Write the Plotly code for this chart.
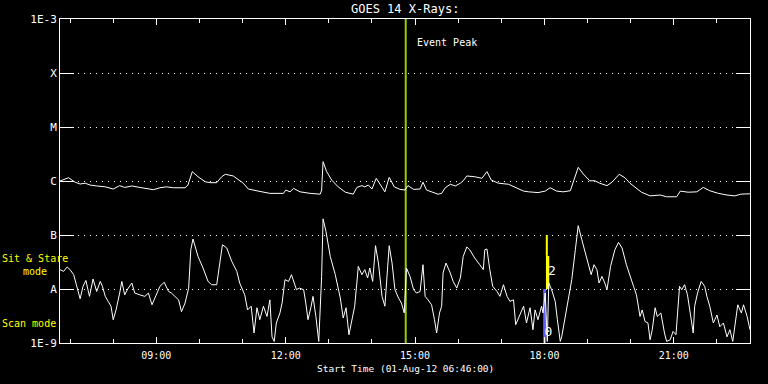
import pandas as pd
import plotly.graph_objects as go

START = pd.Timestamp("2012-08-01 06:46:00")
END = START + pd.Timedelta(hours=16)

# --- Long-wavelength channel (upper curve): minutes after start, flux (W/m^2)
long_t = [0, 12, 21, 28, 35, 42, 51, 63, 74, 83, 90, 100, 111, 121, 130, 139, 148, 158, 167, 174,
          178, 184, 192, 202, 209, 218, 225, 230, 241, 248, 255, 262, 271, 281, 292, 304, 311, 314,
          320, 325, 334, 348, 362, 364, 366, 371, 378, 387, 397, 408, 413, 420, 424, 429, 434, 440,
          448, 452, 458, 465, 473, 480, 484, 492, 501, 505, 510, 519, 526, 531, 536, 543, 550, 557,
          561, 566, 577, 587, 594, 600, 610, 624, 635, 645, 652, 665, 675, 682, 691, 700, 710, 714,
          721, 728, 737, 744, 751, 761, 768, 778, 786, 793, 805, 809, 821, 835, 844, 858, 863, 874,
          886, 895, 904, 916, 928, 939, 947, 960]
long_flux = [1.00e-6, 1.15e-6, 0.95e-6, 0.88e-6, 0.91e-6, 0.84e-6, 0.81e-6, 0.78e-6, 0.71e-6, 0.82e-6,
             0.76e-6, 0.81e-6, 0.76e-6, 0.71e-6, 0.69e-6, 0.75e-6, 0.78e-6, 0.75e-6, 0.75e-6, 0.75e-6,
             0.84e-6, 1.49e-6, 1.20e-6, 0.97e-6, 0.93e-6, 0.93e-6, 1.20e-6, 1.33e-6, 1.24e-6, 1.07e-6,
             0.91e-6, 0.71e-6, 0.68e-6, 0.63e-6, 0.59e-6, 0.58e-6, 0.59e-6, 0.68e-6, 0.63e-6, 0.73e-6,
             0.63e-6, 0.59e-6, 0.57e-6, 0.68e-6, 2.28e-6, 1.49e-6, 1.04e-6, 0.78e-6, 0.62e-6, 0.57e-6,
             0.76e-6, 0.82e-6, 0.78e-6, 0.84e-6, 0.71e-6, 1.12e-6, 0.76e-6, 0.63e-6, 1.17e-6, 0.78e-6,
             0.70e-6, 0.68e-6, 0.82e-6, 0.70e-6, 0.71e-6, 0.95e-6, 0.68e-6, 0.61e-6, 0.57e-6, 0.59e-6,
             0.75e-6, 0.87e-6, 0.81e-6, 0.91e-6, 1.01e-6, 1.24e-6, 1.20e-6, 1.12e-6, 1.49e-6, 1.04e-6,
             0.91e-6, 0.87e-6, 0.75e-6, 0.65e-6, 0.63e-6, 0.61e-6, 0.65e-6, 0.75e-6, 0.65e-6, 0.63e-6,
             0.66e-6, 0.97e-6, 1.79e-6, 1.35e-6, 1.01e-6, 1.01e-6, 0.91e-6, 0.82e-6, 0.95e-6, 1.33e-6,
             1.15e-6, 0.91e-6, 0.68e-6, 0.62e-6, 0.53e-6, 0.55e-6, 0.51e-6, 0.51e-6, 0.65e-6, 0.62e-6,
             0.63e-6, 0.76e-6, 0.66e-6, 0.59e-6, 0.55e-6, 0.53e-6, 0.57e-6, 0.58e-6]

# --- Short-wavelength channel (lower curve): minutes after start, flux (W/m^2)
short_t = [0, 5, 10, 14, 19, 23, 28, 32, 36, 41, 46, 51, 56, 59, 63, 67, 71, 74, 78, 83, 86, 90, 95,
           100, 104, 111, 118, 123, 128, 132, 139, 145, 151, 155, 160, 165, 169, 174, 179, 182, 185,
           192, 199, 206, 211, 218, 220, 226, 232, 239, 246, 250, 257, 261, 266, 270, 274, 278, 283,
           288, 292, 295, 298, 301, 306, 309, 313, 318, 322, 326, 329, 333, 339, 342, 345, 349, 352,
           356, 360, 364, 366, 370, 376, 383, 390, 394, 398, 402, 406, 410, 413, 415, 420, 424, 428,
           431, 435, 439, 443, 448, 452, 455, 458, 462, 466, 471, 475, 479, 482, 487, 492, 496, 501,
           505, 508, 512, 517, 521, 524, 528, 531, 533, 537, 543, 547, 552, 557, 561, 566, 570, 577,
           584, 589, 591, 594, 598, 602, 608, 612, 617, 622, 626, 631, 634, 640, 645, 649, 654, 658,
           661, 665, 670, 672, 675, 678, 680, 684, 689, 692, 696, 698, 703, 707, 712, 717, 721, 726,
           730, 735, 739, 743, 747, 750, 754, 758, 761, 766, 772, 777, 782, 788, 793, 798, 802, 804,
           807, 810, 814, 818, 821, 824, 828, 831, 836, 841, 844, 849, 853, 857, 859, 862, 865, 869,
           873, 878, 881, 883, 887, 892, 897, 900, 904, 909, 914, 918, 923, 928, 932, 936, 939, 943,
           948, 951, 956, 960]
short_flux = [2.28e-8, 2.12e-8, 2.56e-8, 2.28e-8, 1.84e-8, 1.20e-8, 0.66e-8, 1.12e-8, 1.44e-8, 0.73e-8,
              1.53e-8, 0.90e-8, 1.38e-8, 1.12e-8, 0.73e-8, 0.59e-8, 0.48e-8, 0.27e-8, 0.41e-8, 0.84e-8,
              1.38e-8, 0.78e-8, 1.04e-8, 1.29e-8, 0.84e-8, 0.78e-8, 0.73e-8, 0.84e-8, 0.51e-8, 0.68e-8,
              1.12e-8, 1.33e-8, 0.90e-8, 0.84e-8, 0.73e-8, 0.63e-8, 0.38e-8, 0.55e-8, 1.04e-8, 5.33e-8,
              8.43e-8, 4.01e-8, 2.45e-8, 1.38e-8, 1.20e-8, 1.20e-8, 1.84e-8, 6.60e-8, 5.75e-8, 3.24e-8,
              2.12e-8, 1.29e-8, 0.78e-8, 0.41e-8, 0.48e-8, 0.153e-8, 0.45e-8, 0.27e-8, 0.48e-8, 0.31e-8,
              0.63e-8, 0.13e-8, 0.107e-8, 0.235e-8, 0.36e-8, 0.55e-8, 1.49e-8, 1.38e-8, 1.84e-8, 1.29e-8,
              0.97e-8, 1.04e-8, 0.97e-8, 0.55e-8, 0.27e-8, 0.45e-8, 0.73e-8, 0.31e-8, 0.107e-8, 1.71e-8,
              19.9e-8, 11.7e-8, 4.01e-8, 1.84e-8, 0.68e-8, 0.29e-8, 0.45e-8, 0.142e-8, 0.27e-8, 0.48e-8,
              1.29e-8, 2.62e-8, 1.84e-8, 2.28e-8, 1.60e-8, 2.45e-8, 1.38e-8, 6.34e-8, 3.03e-8, 0.73e-8,
              0.48e-8, 1.98e-8, 6.34e-8, 3.03e-8, 0.97e-8, 0.68e-8, 0.55e-8, 0.36e-8, 2.45e-8, 1.71e-8,
              0.97e-8, 0.84e-8, 0.90e-8, 2.82e-8, 0.73e-8, 0.63e-8, 0.51e-8, 0.27e-8, 0.153e-8, 0.36e-8,
              0.48e-8, 1.98e-8, 3.03e-8, 1.98e-8, 1.38e-8, 1.04e-8, 1.60e-8, 4.01e-8, 6.00e-8, 5.33e-8,
              3.75e-8, 2.82e-8, 2.28e-8, 5.33e-8, 5.51e-8, 2.28e-8, 1.12e-8, 0.90e-8, 0.73e-8, 1.20e-8,
              0.73e-8, 0.59e-8, 0.63e-8, 0.218e-8, 0.33e-8, 0.48e-8, 0.235e-8, 0.45e-8, 0.176e-8, 0.41e-8,
              0.27e-8, 0.48e-8, 0.36e-8, 0.84e-8, 0.107e-8, 1.29e-8, 0.97e-8, 0.59e-8, 0.27e-8, 0.107e-8,
              0.13e-8, 0.31e-8, 0.55e-8, 1.49e-8, 5.33e-8, 14.9e-8, 8.18e-8, 4.97e-8, 2.82e-8, 1.84e-8,
              2.82e-8, 2.28e-8, 1.29e-8, 1.71e-8, 1.29e-8, 0.97e-8, 2.62e-8, 5.33e-8, 7.30e-8, 5.75e-8,
              2.82e-8, 1.71e-8, 1.12e-8, 0.78e-8, 0.55e-8, 0.31e-8, 0.41e-8, 0.25e-8, 0.235e-8, 0.115e-8,
              0.176e-8, 0.45e-8, 0.31e-8, 0.36e-8, 0.153e-8, 0.107e-8, 0.115e-8, 0.164e-8, 0.142e-8, 0.31e-8,
              1.12e-8, 0.97e-8, 1.20e-8, 0.78e-8, 0.31e-8, 0.153e-8, 0.48e-8, 0.84e-8, 1.38e-8, 1.12e-8,
              0.73e-8, 0.48e-8, 0.235e-8, 0.33e-8, 0.20e-8, 0.235e-8, 0.13e-8, 0.176e-8, 0.107e-8, 0.235e-8,
              0.51e-8, 0.36e-8, 0.51e-8, 0.31e-8, 0.176e-8]

# --- Flare class tick labels
class_vals = [1e-9, 1e-8, 1e-7, 1e-6, 1e-5, 1e-4, 1e-3]
class_text = ["1E-9", "A", "B", "C", "M", "X", "1E-3"]

# --- Event and observing-mode markers (minutes after start)
event_peak_min = 481
scan_t = 674.3
scan_range = [1e-9, 1e-8]
sitstare_t_top = 677.3
sitstare_range_top = [4.1e-8, 1e-7]
sitstare_t_low = 678.4
sitstare_range_low = [1e-8, 4.1e-8]
mode_labels = ["2", "0"]
mode_label_t = [684.5, 679.6]
mode_label_flux = [2.1e-8, 1.55e-9]


def ts(mins):
    return [START + pd.Timedelta(minutes=m) for m in mins]


FONT = "DejaVu Sans Mono"

fig = go.Figure()

# observing-mode bars
fig.add_trace(go.Scatter(x=ts([scan_t, scan_t]), y=scan_range, mode="lines",
                         line=dict(color="#6060ff", width=3), hoverinfo="skip"))
fig.add_trace(go.Scatter(x=ts([sitstare_t_top, sitstare_t_top]), y=sitstare_range_top, mode="lines",
                         line=dict(color="#ffff00", width=2), hoverinfo="skip"))
fig.add_trace(go.Scatter(x=ts([sitstare_t_low, sitstare_t_low]), y=sitstare_range_low, mode="lines",
                         line=dict(color="#ffff00", width=3.3), hoverinfo="skip"))

# event peak line
ev = ts([event_peak_min])[0]
fig.add_trace(go.Scatter(x=[ev, ev], y=[1e-9, 1e-3], mode="lines",
                         line=dict(color="#99cc00", width=2), hoverinfo="skip"))

# X-ray curves
fig.add_trace(go.Scatter(x=ts(long_t), y=long_flux, mode="lines",
                         line=dict(color="white", width=1)))
fig.add_trace(go.Scatter(x=ts(short_t), y=short_flux, mode="lines",
                         line=dict(color="white", width=1)))

# mode labels
fig.add_trace(go.Scatter(x=ts(mode_label_t), y=mode_label_flux, mode="text", text=mode_labels,
                         textfont=dict(color="white", size=13, family=FONT),
                         hoverinfo="skip"))

fig.update_layout(
    width=768, height=384,
    paper_bgcolor="black", plot_bgcolor="black",
    margin=dict(l=60, r=18, t=19, b=41),
    showlegend=False,
    font=dict(family=FONT, color="white", size=10),
    xaxis=dict(
        type="date", range=[START, END],
        tick0="2012-08-01 00:00:00", dtick=3 * 3600000, tickformat="%H:%M",
        ticks="inside", ticklen=6, tickcolor="white", tickwidth=1,
        minor=dict(dtick=3600000, ticks="inside", ticklen=4, tickcolor="white", showgrid=False),
        showline=True, linecolor="white", linewidth=1, mirror="ticks",
        showgrid=False, zeroline=False, ticklabelstandoff=3,
        tickfont=dict(family=FONT, size=10, color="white"),
    ),
    yaxis=dict(
        type="log", range=[-9, -3],
        tickvals=class_vals, ticktext=class_text,
        ticks="inside", ticklen=14, tickcolor="white", tickwidth=1,
        showline=True, linecolor="white", linewidth=1, mirror="ticks",
        showgrid=True, gridcolor="white", griddash="1px,5px", gridwidth=1,
        zeroline=False,
        tickfont=dict(family=FONT, size=11, color="white"),
    ),
    annotations=[
        dict(text="GOES 14 X-Rays:", xref="paper", yref="paper", x=0.5, y=1.0, yanchor="bottom",
             yshift=1, showarrow=False, font=dict(family=FONT, size=12, color="white")),
        dict(text="Start Time (01-Aug-12 06:46:00)", xref="paper", yref="paper", x=0.5, y=-0.078,
             yanchor="middle", showarrow=False, font=dict(family=FONT, size=9.5, color="white")),
        dict(text="Event Peak", xref="paper", yref="paper", x=0.514, y=0.927, xanchor="left",
             yanchor="middle", showarrow=False, font=dict(family=FONT, size=10, color="white")),
        dict(text="Sit & Stare<br>mode", xref="paper", yref="paper", x=-0.036, y=0.242,
             xanchor="center", yanchor="middle", showarrow=False,
             font=dict(family=FONT, size=10, color="#ffff00")),
        dict(text="Scan mode", xref="paper", yref="paper", x=-0.045, y=0.06,
             xanchor="center", yanchor="middle", showarrow=False,
             font=dict(family=FONT, size=10, color="#ffff00")),
    ],
)

fig.write_html("out.html", config=dict(displayModeBar=False),
               post_script="document.body.style.margin='0px';document.body.style.overflow='hidden';")
